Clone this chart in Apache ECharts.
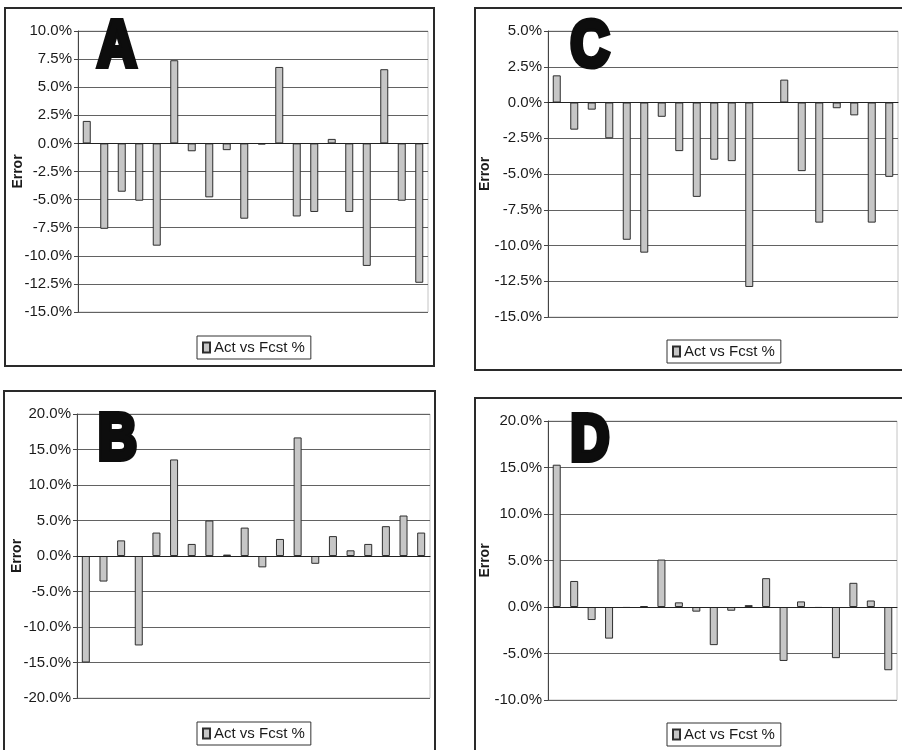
<!DOCTYPE html>
<html>
<head>
<meta charset="utf-8">
<script src="https://cdn.jsdelivr.net/npm/echarts@6/dist/echarts.min.js"></script>
<style>
html,body{margin:0;padding:0;background:#fff;}
#chart{width:902px;height:750px;}
</style>
</head>
<body>
<div id="chart"></div>
<script>
// ---- data ----
const categories = ['1','2','3','4','5','6','7','8','9','10','11','12','13','14','15','16','17','18','19','20'];
const seriesName = 'Act vs Fcst %';
const axisTitle = 'Error';
const panelLetters = ['A', 'C', 'B', 'D'];
const errorA = [2.0, -7.6, -4.3, -5.1, -9.1, 7.4, -0.7, -4.8, -0.6, -6.7, -0.1, 6.8, -6.5, -6.1, 0.4, -6.1, -10.9, 6.6, -5.1, -12.4];
const errorC = [1.9, -1.9, -0.5, -2.5, -9.6, -10.5, -1.0, -3.4, -6.6, -4.0, -4.1, -12.9, null, 1.6, -4.8, -8.4, -0.4, -0.9, -8.4, -5.2];
const errorB = [-15.0, -3.6, 2.2, -12.6, 3.3, 13.6, 1.7, 5.0, 0.2, 4.0, -1.6, 2.4, 16.7, -1.1, 2.8, 0.8, 1.7, 4.2, 5.7, 3.3];
const errorD = [15.3, 2.8, -1.4, -3.4, -0.1, 0.1, 5.1, 0.5, -0.5, -4.1, -0.4, 0.2, 3.1, -5.8, 0.6, -0.1, -5.5, 2.6, 0.7, -6.8];
// y-axis ranges [min, max, step] in percent
const yRangeA = [-15, 10, 2.5];
const yRangeC = [-15, 5, 2.5];
const yRangeB = [-20, 20, 5];
const yRangeD = [-10, 20, 5];

// ---- layout ----
const panels = [
  { data: errorA, range: yRangeA, grid: {left: 78, top: 31, width: 350, height: 281}, nameGap: 53,
    box: [5, 8, 429, 358], letter: [117, 48], legend: {left: 197, top: 336} },
  { data: errorC, range: yRangeC, grid: {left: 548, top: 31, width: 350, height: 286}, nameGap: 56,
    box: [475, 8, 440, 362], letter: [590, 48.5], legend: {left: 667, top: 340} },
  { data: errorB, range: yRangeB, grid: {left: 77, top: 414, width: 353, height: 284}, nameGap: 53,
    box: [4, 391, 431, 380], letter: [117.5, 441], legend: {left: 197, top: 722} },
  { data: errorD, range: yRangeD, grid: {left: 548, top: 421, width: 349, height: 279}, nameGap: 56,
    box: [475, 398, 440, 370], letter: [590, 442], legend: {left: 667, top: 723} }
];

const FONT = '"Liberation Sans", Arial, sans-serif';
const chart = echarts.init(document.getElementById('chart'), null, {renderer: 'canvas'});

const option = {
  backgroundColor: '#fff',
  animation: false,
  grid: panels.map(p => Object.assign({show: true, borderColor: '#c4c4c4', borderWidth: 1, backgroundColor: 'transparent'}, p.grid)),
  xAxis: panels.map((p, i) => ({
    type: 'category', gridIndex: i, data: categories,
    axisLine: {show: true, onZero: true, lineStyle: {color: '#222', width: 1}},
    axisTick: {show: false}, axisLabel: {show: false}, splitLine: {show: false}, z: 5
  })),
  yAxis: panels.map((p, i) => ({
    type: 'value', gridIndex: i, min: p.range[0], max: p.range[1], interval: p.range[2],
    name: axisTitle, nameLocation: 'middle', nameGap: p.nameGap, nameMoveOverlap: false,
    nameTextStyle: {fontFamily: FONT, fontWeight: 'bold', fontSize: 14, color: '#1a1a1a'},
    axisLine: {show: true, lineStyle: {color: '#444', width: 1}},
    axisTick: {show: true, length: 4, lineStyle: {color: '#444'}},
    axisLabel: {fontFamily: FONT, fontSize: 15, color: '#1a1a1a', margin: 6,
      formatter: v => v.toFixed(1) + '%'},
    splitLine: {show: true, lineStyle: {color: '#626262', width: 1}}
  })),
  legend: panels.map(p => ({
    data: [seriesName], left: p.legend.left, top: p.legend.top,
    orient: 'horizontal', borderColor: '#333', borderWidth: 1, padding: [4, 6, 4, 5],
    itemWidth: 7, itemHeight: 10, itemGap: 4, icon: 'rect', selectedMode: false,
    textStyle: {fontFamily: FONT, fontSize: 15, color: '#1a1a1a', padding: [0, 0, 0, -1]}
  })),
  series: panels.map((p, i) => ({
    name: seriesName, type: 'bar', xAxisIndex: i, yAxisIndex: i, data: p.data,
    barWidth: 8,
    itemStyle: {color: '#c6c6c6', borderColor: '#2e2e2e', borderWidth: 1}
  })),
  graphic: [].concat(
    panels.map(p => ({
      type: 'rect', silent: true, z: 1,
      shape: {x: p.box[0], y: p.box[1], width: p.box[2], height: p.box[3]},
      style: {fill: 'none', stroke: '#2a2a2a', lineWidth: 2}
    })),
    panels.map((p, i) => ({
      type: 'text', silent: true, z: 100,
      x: p.letter[0], y: p.letter[1], scaleX: 0.84,
      style: {text: panelLetters[i], fontFamily: FONT, fontWeight: 'bold', fontSize: 64,
        fill: '#0d0d0d', stroke: '#0d0d0d', lineWidth: 6, lineJoin: 'round', align: 'center', verticalAlign: 'middle'}
    }))
  )
};
chart.setOption(option);
</script>
</body>
</html>
